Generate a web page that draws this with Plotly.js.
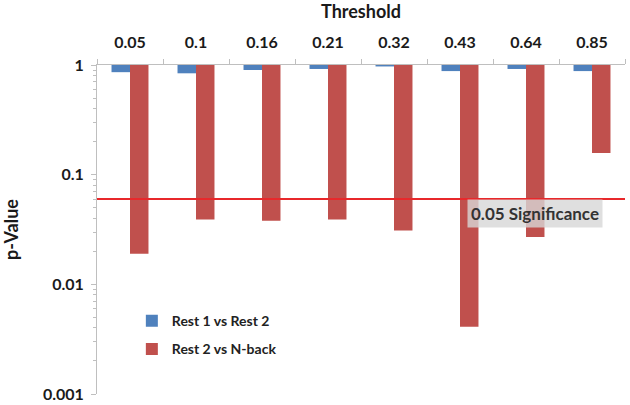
<!DOCTYPE html>
<html>
<head>
<meta charset="utf-8">
<script src="https://cdn.plot.ly/plotly-3.0.1.min.js"></script>
<style>html,body{margin:0;padding:0;background:#fff;}#chart{width:630px;height:405px;}</style>
</head>
<body>
<div id="chart"></div>
<script>
const thresholds = ["0.05", "0.1", "0.16", "0.21", "0.32", "0.43", "0.64", "0.85"];
const rest1VsRest2 = [0.86, 0.84, 0.90, 0.92, 0.97, 0.88, 0.92, 0.88];
const rest2VsNback = [0.019, 0.039, 0.038, 0.039, 0.031, 0.0041, 0.027, 0.158];
const significanceLevel = 0.06;
const significanceLabel = "0.05 Significance";
const yTickVals = [1, 0.1, 0.01, 0.001];
const yTickText = ["1", "0.1", "0.01", "0.001"];

const baseVal = 1;
const font = "Lato, 'Open Sans', Arial, sans-serif";

const traces = [
  {
    type: "bar", name: "Rest 1 vs Rest 2", x: thresholds,
    y: rest1VsRest2.map(v => v - baseVal), base: baseVal,
    marker: {color: "#4F81BD"}, legendgroup: "a", hoverinfo: "skip"
  },
  {
    type: "bar", name: "Rest 2 vs N-back", x: thresholds,
    y: rest2VsNback.map(v => v - baseVal), base: baseVal,
    marker: {color: "#C0504D"}, legendgroup: "b", hoverinfo: "skip"
  },
  {
    type: "scatter", mode: "lines", x: [0, 1], y: [significanceLevel, significanceLevel],
    xaxis: "x2", yaxis: "y", line: {color: "#E8282B", width: 2},
    showlegend: false, hoverinfo: "skip"
  }
];

const layout = {
  width: 630, height: 405,
  margin: {l: 97, r: 5, t: 65, b: 11},
  paper_bgcolor: "#fff", plot_bgcolor: "#fff",
  font: {family: font, color: "#1a1a1a"},
  barmode: "group", bargap: 0.44, bargroupgap: 0,
  showlegend: true,
  legend: {
    x: 0.066, y: 0.27, xanchor: "left", yanchor: "top",
    font: {size: 14, family: font, weight: "bold", color: "#222"},
    traceorder: "grouped", tracegroupgap: 7, bgcolor: "rgba(0,0,0,0)",
    itemwidth: 30
  },
  xaxis: {
    type: "category", side: "top",
    title: {text: "Threshold", font: {size: 18, weight: "bold", family: font}, standoff: 10},
    tickfont: {size: 16, weight: "bold", family: font},
    ticklabelstandoff: 10,
    showline: true, linecolor: "#BFBFBF", linewidth: 1,
    ticks: "outside", tickson: "boundaries", ticklen: 5, tickcolor: "#BFBFBF",
    showgrid: false, zeroline: false
  },
  xaxis2: {overlaying: "x", range: [0, 1], visible: false, fixedrange: true},
  yaxis: {
    type: "log", range: [-3, 0],
    tickvals: yTickVals, ticktext: yTickText,
    tickfont: {size: 16, weight: "bold", family: font},
    ticklabelstandoff: 4,
    title: {text: "p-Value", font: {size: 18, weight: "bold", family: font}, standoff: 22},
    showline: true, linecolor: "#BFBFBF", linewidth: 1,
    ticks: "outside", ticklen: 5, tickcolor: "#BFBFBF",
    minor: {ticks: "outside", ticklen: 3, tickcolor: "#BFBFBF", dtick: "D1", showgrid: false},
    showgrid: false, zeroline: false
  },
  annotations: [{
    xref: "paper", yref: "paper", x: 0.83, y: 0.55,
    xanchor: "center", yanchor: "middle",
    text: significanceLabel, showarrow: false,
    font: {size: 17, weight: "bold", family: font, color: "#333"},
    bgcolor: "rgba(215,215,215,0.8)", borderpad: 3
  }]
};

Plotly.newPlot("chart", traces, layout, {displayModeBar: false, staticPlot: true});
</script>
</body>
</html>
